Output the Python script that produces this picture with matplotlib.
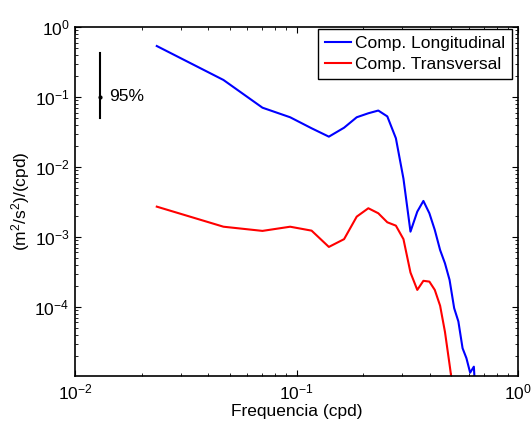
import matplotlib
matplotlib.use("Agg")
import matplotlib.pyplot as plt
from matplotlib.ticker import LogLocator, NullFormatter

plt.rcParams['font.family'] = ['Liberation Sans', 'DejaVu Sans']
plt.rcParams['mathtext.fontset'] = 'custom'
plt.rcParams['mathtext.rm'] = 'Liberation Sans'
plt.rcParams['mathtext.it'] = 'Liberation Sans:italic'
plt.rcParams['mathtext.bf'] = 'Liberation Sans:bold'

freq = [0.0234, 0.0468, 0.0702, 0.0936, 0.117, 0.140, 0.164, 0.187, 0.211,
        0.234, 0.257, 0.281, 0.304, 0.327, 0.351, 0.374, 0.398, 0.421, 0.445,
        0.468, 0.491, 0.515, 0.538, 0.562, 0.585, 0.608, 0.632, 0.655]
longitudinal = [0.535, 0.175, 0.0703, 0.0513, 0.0357, 0.0271, 0.0364, 0.0513, 0.0585,
                0.0640, 0.0528, 0.0257, 0.0068, 0.00119, 0.0023, 0.00327, 0.00218, 0.00126, 0.00065,
                0.00042, 0.000243, 9.6e-5, 6.2e-5, 2.57e-5, 1.85e-5, 1.15e-5, 1.4e-5, 2e-6]
transversal = [0.00271, 0.0014, 0.00122, 0.0014, 0.00123, 0.00072, 0.00093, 0.00195, 0.00257,
               0.00218, 0.00162, 0.00145, 0.00093, 0.00031, 0.000175, 0.000236, 0.00023, 0.000175, 0.000104,
               4.4e-5, 1.5e-5, 5e-6, 2e-6, 1e-6, 1e-6, 1e-6, 1e-6, 1e-6]
labels = ['Comp. Longitudinal', 'Comp. Transversal']

ci_x = 0.01297
ci_center = 0.1
ci_low, ci_high = 0.0506, 0.42
ci_label = '95%'

FS = 12.5

fig = plt.figure(figsize=(5.31, 4.21), dpi=100)
ax = fig.add_axes([75/531, 1-376/421, (518-75)/531, (376-27)/421])

ax.loglog(freq, longitudinal, color='#0000ff', lw=1.5, label=labels[0])
ax.loglog(freq, transversal, color='#ff0000', lw=1.5, label=labels[1])

ax.plot([ci_x, ci_x], [ci_low, ci_high], color='k', lw=1.5)
ax.plot([ci_x], [ci_center], 'k.', ms=4)
ax.text(ci_x*1.1, ci_center, ci_label, fontsize=FS, va='center', ha='left')

ax.set_xlim(1e-2, 1)
ax.set_ylim(1.03e-5, 1)
ax.set_xlabel('Frequencia (cpd)', fontsize=FS, labelpad=1)
ax.set_ylabel('(m$^2$/s$^2$)/(cpd)', fontsize=FS, labelpad=2)

ax.yaxis.set_major_locator(LogLocator(base=10, numticks=10))
ax.yaxis.set_minor_locator(LogLocator(base=10, subs=range(2, 10), numticks=10))
ax.yaxis.set_minor_formatter(NullFormatter())
ax.xaxis.set_minor_formatter(NullFormatter())
ax.tick_params(which='both', direction='in', top=True, right=True, labelsize=FS)
ax.tick_params(which='major', length=4)
ax.tick_params(which='minor', length=2)
ax.tick_params(axis='x', pad=5)
ax.tick_params(axis='y', pad=4)
for s in ax.spines.values():
    s.set_linewidth(1.2)

leg = ax.legend(loc='upper right', fontsize=FS, fancybox=False, framealpha=1,
                edgecolor='k', handlelength=1.5, handletextpad=0.25,
                bbox_to_anchor=(512/531, 1-29/421), bbox_transform=fig.transFigure,
                borderaxespad=0, borderpad=0.4, labelspacing=0.35)
leg.get_frame().set_linewidth(1.0)

fig.savefig('out.png', dpi=100)
